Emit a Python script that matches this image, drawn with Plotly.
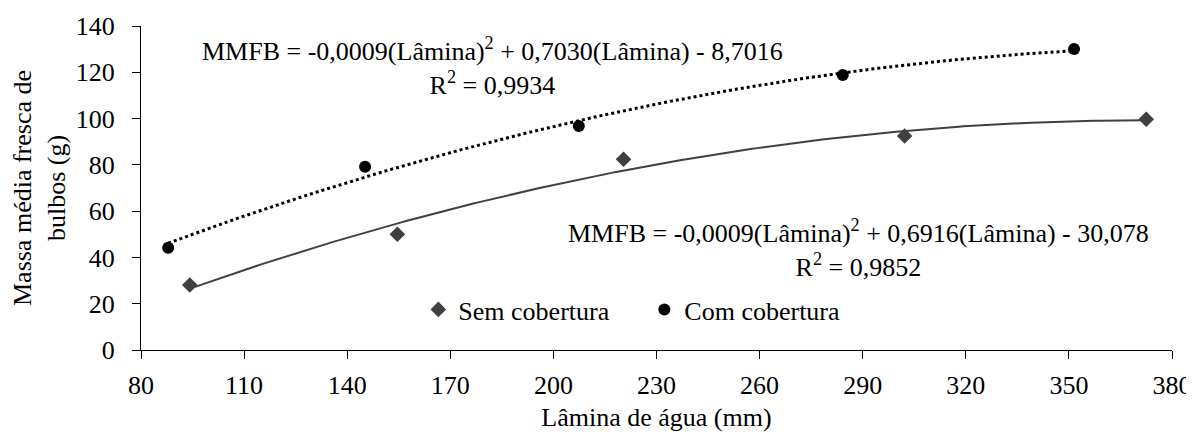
import numpy as np
import plotly.graph_objects as go

# Data
lamina_sem = [94.2, 154.6, 220.4, 302.2, 372.5]
mmfb_sem = [28.1, 50.0, 82.4, 92.5, 99.7]
lamina_com = [87.9, 145.2, 207.4, 284.2, 351.5]
mmfb_com = [44.2, 79.2, 96.8, 118.8, 130.1]

x_ticks = [80, 110, 140, 170, 200, 230, 260, 290, 320, 350, 380]
y_ticks = [0, 20, 40, 60, 80, 100, 120, 140]

eq_com = "MMFB = -0,0009(Lâmina)<sup>2</sup> + 0,7030(Lâmina) - 8,7016<br>R<sup>2</sup> = 0,9934"
eq_sem = "MMFB = -0,0009(Lâmina)<sup>2</sup> + 0,6916(Lâmina) - 30,078<br>R<sup>2</sup> = 0,9852"

FONT = "Liberation Serif, Times New Roman, Times, serif"
FS = 26

# Quadratic trendlines fitted to the data (as in the original chart)
def trend(xs, ys):
    c = np.polyfit(xs, ys, 2)
    xx = np.linspace(min(xs), max(xs), 200)
    return xx, np.polyval(c, xx)

xs_t, ys_t = trend(lamina_sem, mmfb_sem)
xc_t, yc_t = trend(lamina_com, mmfb_com)

fig = go.Figure()
fig.add_trace(go.Scatter(x=xs_t, y=ys_t, mode="lines", showlegend=False,
                         line=dict(color="#404040", width=2), hoverinfo="skip"))
fig.add_trace(go.Scatter(x=xc_t, y=yc_t, mode="lines", showlegend=False,
                         line=dict(color="#000000", width=3, dash="dot"), hoverinfo="skip"))
fig.add_trace(go.Scatter(x=lamina_sem, y=mmfb_sem, mode="markers", name="Sem cobertura",
                         marker=dict(symbol="diamond", size=12, color="#404040")))
fig.add_trace(go.Scatter(x=lamina_com, y=mmfb_com, mode="markers", name="Com cobertura",
                         marker=dict(symbol="circle", size=12, color="#000000")))

fig.add_annotation(x=0.341, y=0.875, xref="paper", yref="paper", text=eq_com,
                   showarrow=False, font=dict(family=FONT, size=FS, color="black"),
                   align="center", xanchor="center", yanchor="middle")
fig.add_annotation(x=0.696, y=0.312, xref="paper", yref="paper", text=eq_sem,
                   showarrow=False, font=dict(family=FONT, size=FS, color="black"),
                   align="center", xanchor="center", yanchor="middle")

# the page body has an 8px margin, so the figure is sized to end at the window edge
fig.update_layout(
    width=1186, height=424,
    margin=dict(l=133, r=22, t=18, b=82),
    paper_bgcolor="white", plot_bgcolor="white",
    font=dict(family=FONT, size=FS, color="black"),
    legend=dict(orientation="h", x=0.269, y=0.125, xanchor="left", yanchor="middle",
                bgcolor="rgba(0,0,0,0)", font=dict(family=FONT, size=FS),
                itemwidth=30, entrywidth=181, tracegroupgap=0),
    xaxis=dict(range=[80, 380], tickvals=x_ticks, ticks="outside", ticklen=8,
               tickcolor="black", showline=True, linecolor="black", linewidth=1,
               showgrid=False, zeroline=False, automargin=False, ticklabelstandoff=4,
               ticklabeloverflow="allow",
               title=dict(text="Lâmina de água (mm)", standoff=26,
                          font=dict(family=FONT, size=FS)),
               tickfont=dict(family=FONT, size=FS)),
    yaxis=dict(range=[0, 140], tickvals=y_ticks, ticks="outside", ticklen=8,
               tickcolor="black", showline=True, linecolor="black", linewidth=1,
               showgrid=False, zeroline=False, automargin=False, ticklabelstandoff=12,
               title=dict(text="Massa média fresca de<br>bulbos (g)", standoff=16,
                          font=dict(family=FONT, size=FS)),
               tickfont=dict(family=FONT, size=FS)),
)

fig.write_html("out.html")
